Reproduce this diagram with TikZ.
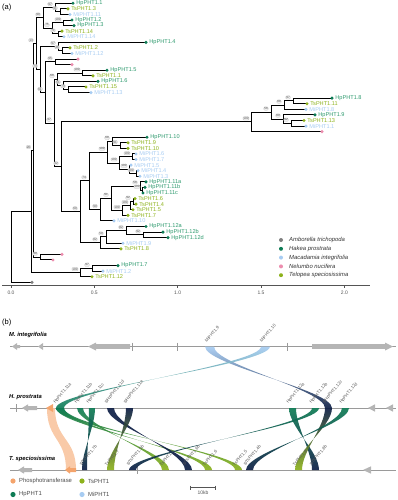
\documentclass[tikz,border=0pt]{standalone}
\usepackage{fontspec}
\setmainfont{Liberation Sans}
\usetikzlibrary{calc}
\definecolor{hp}{HTML}{0E7C55}
\definecolor{hptxt}{HTML}{2E9A6E}
\definecolor{ts}{HTML}{8DB21C}
\definecolor{mi}{HTML}{A7CCF2}
\definecolor{nn}{HTML}{EC8DAE}
\definecolor{am}{HTML}{7F7F7F}
\definecolor{navy}{HTML}{0D1E45}
\definecolor{orng}{HTML}{F4A46C}
\definecolor{orngl}{HTML}{F9C7A3}
\definecolor{gene}{HTML}{B5B5B5}
\definecolor{trk}{HTML}{9A9A9A}
\definecolor{axc}{HTML}{555555}
\tikzset{
 br/.style={line width=1pt, black},
 boot/.style={draw=gray!55, fill=gray!12, rounded corners=0.8pt, line width=0.25pt, inner sep=0.45pt, font=\fontsize{3.1}{3.3}\selectfont, text=gray!60!black},
 tiplab/.style={anchor=west, inner sep=0pt, font=\fontsize{5.6}{6}\selectfont},
 leglab/.style={anchor=west, inner sep=0pt, font=\fontsize{5.9}{6.5}\selectfont\itshape, text=black!80},
 axlab/.style={font=\fontsize{5}{6}\selectfont, text=axc, inner sep=0pt},
 panel/.style={font=\fontsize{7.5}{8}\selectfont, inner sep=0pt},
 trklab/.style={anchor=west, inner sep=0pt, font=\fontsize{5.8}{6.5}\selectfont\bfseries\itshape},
 glab/.style={anchor=south west, inner sep=0pt, rotate=50, font=\fontsize{4.4}{5}\selectfont, text=black!65},
 trackline/.style={draw=trk, line width=0.8pt},
}
\newcommand\tp[6]{%
  \coordinate (#1) at (#2, {3.3+5.58*#3});
  \node[tiplab, text=#5] (#1l) at ($(#1)+(3.2,0)$) {#6};
}
\newcommand\tpn[3]{%
  \coordinate (#1) at (#2, {3.3+5.58*#3});
}
\newcommand\bs[2]{\node[boot] at ($(#1)+(-5,-3.5)$) {#2};}
% twisted ribbon: gene [a1,a2] at yT to gene [b1,b2] at yB
\newcommand\rib[8]{%
 \shade[top color=#7, bottom color=#8, opacity=0.92] (#1,#3) .. controls (#1,{#3+0.3*(#6-#3)}) and (#5,{#6-0.3*(#6-#3)}) .. (#5,#6) -- (#4,#6) .. controls (#4,{#6-0.3*(#6-#3)}) and (#2,{#3+0.3*(#6-#3)}) .. (#2,#3) -- cycle;
}
\begin{document}
\begin{tikzpicture}[x=1pt,y=-1pt]
\path[use as bounding box] (0,0) rectangle (398,500);
\node[panel, anchor=west] (pa) at (2,8) {(a)};
% ---------------- tips
\tp{t0}{73}{0}{hp}{hptxt}{HpPHT1.1}
\tp{t1}{68}{1}{ts}{ts}{TsPHT1.3}
\tp{t2}{70}{2}{mi}{mi}{MiPHT1.11}
\tp{t3}{72}{3}{hp}{hptxt}{HpPHT1.2}
\tp{t4}{74}{4}{hp}{hptxt}{HpPHT1.3}
\tp{t5}{62}{5}{ts}{ts}{TsPHT1.14}
\tp{t6}{64}{6}{mi}{mi}{MiPHT1.14}
\tp{t7}{146}{7}{hp}{hptxt}{HpPHT1.4}
\tp{t8}{70}{8}{ts}{ts}{TsPHT1.2}
\tp{t9}{72}{9}{mi}{mi}{MiPHT1.12}
\tpn{t10}{78}{10}
\tpn{t11}{72}{11}
\tp{t12}{107}{12}{hp}{hptxt}{HpPHT1.5}
\tp{t13}{93}{13}{ts}{ts}{TsPHT1.1}
\tp{t14}{98}{14}{hp}{hptxt}{HpPHT1.6}
\tp{t15}{86}{15}{ts}{ts}{TsPHT1.15}
\tp{t16}{91}{16}{mi}{mi}{MiPHT1.13}
\tp{t17}{332}{17}{hp}{hptxt}{HpPHT1.8}
\tp{t18}{307}{18}{ts}{ts}{TsPHT1.11}
\tp{t19}{306}{19}{mi}{mi}{MiPHT1.8}
\tp{t20}{315}{20}{hp}{hptxt}{HpPHT1.9}
\tp{t21}{304}{21}{ts}{ts}{TsPHT1.13}
\tp{t22}{306}{22}{mi}{mi}{MiPHT1.1}
\tpn{t23}{322}{23}
\tp{t24}{147}{24}{hp}{hptxt}{HpPHT1.10}
\tp{t25}{128}{25}{ts}{ts}{TsPHT1.9}
\tp{t26}{128}{26}{ts}{ts}{TsPHT1.10}
\tp{t27}{136}{27}{mi}{mi}{MiPHT1.6}
\tp{t28}{136}{28}{mi}{mi}{MiPHT1.7}
\tp{t29}{131}{29}{mi}{mi}{MiPHT1.5}
\tp{t30}{138}{30}{mi}{mi}{MiPHT1.4}
\tp{t31}{140}{31}{mi}{mi}{MiPHT1.3}
\tp{t32}{146}{32}{hp}{hptxt}{HpPHT1.11a}
\tp{t33}{145}{33}{hp}{hptxt}{HpPHT1.11b}
\tp{t34}{143}{34}{hp}{hptxt}{HpPHT1.11c}
\tp{t35}{135}{35}{ts}{ts}{TsPHT1.6}
\tp{t36}{136}{36}{ts}{ts}{TsPHT1.4}
\tp{t37}{133}{37}{ts}{ts}{TsPHT1.5}
\tp{t38}{128}{38}{ts}{ts}{TsPHT1.7}
\tp{t39}{114}{39}{mi}{mi}{MiPHT1.10}
\tp{t40}{146}{40}{hp}{hptxt}{HpPHT1.12a}
\tp{t41}{163}{41}{hp}{hptxt}{HpPHT1.12b}
\tp{t42}{168}{42}{hp}{hptxt}{HpPHT1.12d}
\tp{t43}{123}{43}{mi}{mi}{MiPHT1.9}
\tp{t44}{121}{44}{ts}{ts}{TsPHT1.8}
\tpn{t45}{62}{45}
\tpn{t46}{53}{46}
\tp{t47}{118}{47}{hp}{hptxt}{HpPHT1.7}
\tp{t48}{103}{48}{mi}{mi}{MiPHT1.2}
\tp{t49}{92}{49}{ts}{ts}{TsPHT1.12}
\tpn{t50}{32}{50}
% ---------------- internal nodes
\coordinate (B) at (60,11.67);
\coordinate (A) at (55,7.49);
\coordinate (C) at (63,22.83);
\coordinate (E) at (58,33.99);
\coordinate (D) at (52,28.41);
\coordinate (F) at (43,17.95);
\coordinate (U2s) at (62,50.73);
\coordinate (U2) at (58,46.55);
\coordinate (U3) at (55,61.89);
\coordinate (H5) at (82,73.05);
\coordinate (Q) at (68,89.79);
\coordinate (P) at (63,85.61);
\coordinate (U4) at (57,79.33);
\coordinate (n97r) at (293,100.95);
\coordinate (n88) at (284,105.14);
\coordinate (n92r) at (291,123.27);
\coordinate (n80) at (283,119.09);
\coordinate (n56) at (271,112.11);
\coordinate (LC) at (251,121.88);
\coordinate (n91a) at (120,145.59);
\coordinate (n68) at (112,141.4);
\coordinate (n100a) at (132,156.75);
\coordinate (n100c) at (136,173.49);
\coordinate (n100b) at (129,169.3);
\coordinate (n100u) at (119,163.03);
\coordinate (C100) at (107,152.2);
\coordinate (h11s) at (142,190.23);
\coordinate (h11) at (140,186.05);
\coordinate (T1) at (133,201.39);
\coordinate (T2) at (130,205.58);
\coordinate (T3) at (122,210.46);
\coordinate (n91b) at (111,198.26);
\coordinate (n99) at (100,209.59);
\coordinate (n74) at (89,180.9);
\coordinate (n92b) at (143,234.87);
\coordinate (h12) at (126,230.69);
\coordinate (n50) at (106,236.96);
\coordinate (n82b) at (100,242.89);
\coordinate (n60) at (80,211.9);
\coordinate (X) at (61,166.89);
\coordinate (n37) at (54,123.11);
\coordinate (n61) at (45,92.5);
\coordinate (n73) at (40,69.53);
\coordinate (n13) at (36,43.74);
\coordinate (pk99) at (40,257.19);
\coordinate (n20) at (33.5,150.47);
\coordinate (n97h) at (92,268.35);
\coordinate (n100h) at (80,272.54);
\coordinate (N1) at (31.5,211.5);
\coordinate (root) at (11,246.9);
% ---------------- edges
\foreach \p/\c in {root/t50,root/N1,N1/n20,N1/n100h,n20/n13,n20/pk99,n13/F,n13/n73,
 F/A,F/D,A/t0,A/B,B/t1,B/t2,D/C,D/E,C/t3,C/t4,E/t5,E/t6,n73/U2,n73/n61,U2/t7,U2/U2s,U2s/t8,U2s/t9,
 n61/U3,n61/n37,U3/t10,U3/t11,n37/U4,n37/X,U4/H5,U4/P,H5/t12,H5/t13,P/t14,P/Q,Q/t15,Q/t16,
 X/LC,X/n60,LC/n56,LC/t23,n56/n88,n56/n80,n88/n97r,n88/t19,n97r/t17,n97r/t18,n80/t20,n80/n92r,n92r/t21,n92r/t22,
 n60/n74,n60/n82b,n74/C100,n74/n99,C100/n68,C100/n100u,n68/t24,n68/n91a,n91a/t25,n91a/t26,
 n100u/n100a,n100u/n100b,n100a/t27,n100a/t28,n100b/t29,n100b/n100c,n100c/t30,n100c/t31,
 n99/n91b,n99/t39,n91b/h11,n91b/T3,h11/t32,h11/h11s,h11s/t33,h11s/t34,T3/T2,T3/t38,T2/T1,T2/t37,T1/t35,T1/t36,
 n82b/n50,n82b/t44,n50/h12,n50/t43,h12/t40,h12/n92b,n92b/t41,n92b/t42,pk99/t45,pk99/t46,
 n100h/n97h,n100h/t49,n97h/t47,n97h/t48}
 {\draw[br] (\p) |- (\c);}
% dots over lines
\foreach \t/\c in {t0/hp,t1/ts,t2/mi,t3/hp,t4/hp,t5/ts,t6/mi,t7/hp,t8/ts,t9/mi,t10/nn,t11/nn,t12/hp,t13/ts,t14/hp,t15/ts,t16/mi,
 t17/hp,t18/ts,t19/mi,t20/hp,t21/ts,t22/mi,t23/nn,t24/hp,t25/ts,t26/ts,t27/mi,t28/mi,t29/mi,t30/mi,t31/mi,t32/hp,t33/hp,t34/hp,
 t35/ts,t36/ts,t37/ts,t38/ts,t39/mi,t40/hp,t41/hp,t42/hp,t43/mi,t44/ts,t45/nn,t46/nn,t47/hp,t48/mi,t49/ts,t50/am}
 {\fill[\c] (\t) circle (1.7pt);}
% ---------------- bootstrap labels
\bs{A}{97}\bs{B}{91}\bs{F}{90}\bs{C}{100}\bs{D}{75}\bs{E}{71}\bs{n13}{13}\bs{U2}{97}\bs{U2s}{46}
\bs{U3}{95}\bs{n73}{73}\bs{H5}{100}\bs{U4}{66}\bs{P}{61}\bs{Q}{73}\bs{n61}{61}\bs{n37}{37}\bs{n20}{20}
\bs{X}{32}\bs{n60}{60}\bs{pk99}{99}\bs{n100h}{100}\bs{n97h}{97}\bs{LC}{100}\bs{n56}{56}\bs{n88}{88}
\bs{n97r}{97}\bs{n80}{80}\bs{n92r}{92}\bs{n68}{68}\bs{n91a}{91}\bs{C100}{100}\bs{n100a}{100}\bs{n100u}{100}
\bs{n100b}{100}\bs{n100c}{100}\bs{n74}{74}\bs{h11}{56}\bs{h11s}{100}\bs{n91b}{91}\bs{T1}{92}\bs{T2}{100}
\bs{T3}{100}\bs{n99}{99}\bs{h12}{82}\bs{n92b}{92}\bs{n50}{50}\bs{n82b}{82}
% ---------------- legend a
\foreach \y/\c/\t [count=\k] in {240/am/Amborella trichopoda,248.8/hp/Hakea prostrata,257.6/mi/Macadamia integrifolia,266.4/nn/Nelumbo nucifera,275.2/ts/Telopea speciosissima}
 {\fill[\c] (281,\y) circle (2pt); \node[leglab] (lg\k) at (289,\y) {\t};}
% ---------------- axis
\coordinate (ax0) at (2,285.7); \coordinate (ax1) at (370,285.7);
\draw[axc, line width=0.6pt] (ax0) -- (ax1);
\foreach \x/\l in {11/0.0,94.3/0.5,177.7/1.0,261/1.5,344.3/2.0}
 {\draw[axc, line width=0.5pt] (\x,285.7) -- (\x,287.8); \node[axlab] at (\x,293) {\l};}
% ================= panel b
\node[panel, anchor=west] (pb) at (2,323) {(b)};
\node[trklab] (lm) at (9,334.5) {M. integrifolia};
\node[trklab] (lh) at (9,397) {H. prostrata};
\node[trklab] (lt) at (9,458.5) {T. speciosissima};
\draw[trackline] (10,346.5) -- (396,346.5);
\draw[trackline] (10,408) -- (396,408);
\draw[trackline] (10,470) -- (396,470);
\foreach \x/\y in {132/346.5,177/346.5,287/346.5,16/408,137/470}
 {\draw[trk, line width=0.5pt] (\x,\y-4) -- (\x,\y+4);}
% ribbons M->H
\rib{205}{214}{346.5}{325}{332}{408}{mi}{navy}
\rib{261}{270}{346.5}{56}{64}{408}{mi}{hp}
% orange
\fill[orngl, opacity=0.95] (47,408) .. controls (47,440) and (66,438) .. (66,470) -- (76,470) .. controls (76,438) and (55,440) .. (55,408) -- cycle;
% ribbons H->T
\rib{56}{64}{408}{235}{242}{470}{hp}{ts}
\rib{56}{64}{408}{205}{212}{470}{hp}{ts}
\rib{77}{83}{408}{162}{169}{470}{hp}{ts}
\rib{89}{95}{408}{82}{87}{470}{hp}{navy}
\rib{107}{114}{408}{185}{192}{470}{navy}{navy}
\rib{126}{133}{408}{107}{114}{470}{navy}{ts}
\rib{289}{296}{408}{312}{319}{470}{hp}{navy}
\rib{312}{319}{408}{129}{136}{470}{hp}{navy}
\rib{325}{332}{408}{295}{302}{470}{navy}{ts}
\rib{342}{349}{408}{246}{253}{470}{hp}{navy}
% grey genes
\fill[gene] (12,346.5) -- (17,343) -- (17,345) -- (20,345) -- (20,348) -- (17,348) -- (17,350) -- cycle;
\fill[gene] (38,346.5) -- (43,343) -- (43,350) -- cycle;
\fill[gene] (88,346.5) -- (96,342.5) -- (96,344.2) -- (130,344.2) -- (130,348.8) -- (96,348.8) -- (96,350.5) -- cycle;
\fill[gene] (393,346.5) -- (385,342.5) -- (385,344.2) -- (312,344.2) -- (312,348.8) -- (385,348.8) -- (385,350.5) -- cycle;
\fill[gene] (22,408) -- (28,404.3) -- (28,406) -- (37,406) -- (37,410) -- (28,410) -- (28,411.7) -- cycle;
\fill[gene] (368,408) -- (375,404.3) -- (375,411.7) -- cycle;
\fill[gene] (386,408) -- (393,404.3) -- (393,411.7) -- cycle;
\fill[gene] (18,470) -- (24,466.3) -- (24,468) -- (32,468) -- (32,472) -- (24,472) -- (24,473.7) -- cycle;
\fill[gene] (363,470) -- (371,466.3) -- (371,473.7) -- cycle;
\fill[orng] (46,408) -- (53,404) -- (53,412) -- cycle;
\fill[orng] (65,470) -- (70,466.3) -- (70,468) -- (76,468) -- (76,472) -- (70,472) -- (70,473.7) -- cycle;
% gene labels
\node[glab] (gm9) at (207,343) {MiPHT1.9};
\node[glab] (gm10) at (262,343) {MiPHT1.10};
\foreach \x/\l [count=\k] in {56/HpPHT1.11a,77/HpPHT1.11b,89/HpPHT1.11c,107/ψHpPHT1.11d,126/ψHpPHT1.11e,289/HpPHT1.12a,312/HpPHT1.12b,325/ψHpPHT1.12c,342/HpPHT1.12d}
 {\node[glab] (gh\k) at (\x,404.5) {\l};}
\foreach \x/\l [count=\k] in {82/ψTsPHT1.7b,107/TsPHT1.7,129/ψTsPHT1.5b,162/TsPHT1.4,185/ψTsPHT1.6b,205/TsPHT1.6,235/TsPHT1.5,246/ψTsPHT1.4b,295/TsPHT1.8,312/ψTsPHT1.8b}
 {\node[glab] (gt\k) at (\x,466.5) {\l};}
% scale bar
\coordinate (sb0) at (190,487.5); \coordinate (sb1) at (215,487.5);
\draw[axc, line width=0.5pt] (sb0) -- (sb1);
\draw[axc, line width=0.5pt] (190,485.5) -- (190,489.5) (215,485.5) -- (215,489.5);
\node[axlab] (sbl) at (203,492.5) {10kb};
% legend b
\foreach \x/\y/\c/\t [count=\k] in {13/481/orng/Phosphotransferase,82/481/ts/TsPHT1,13/494.5/hp/HpPHT1,82/494.5/mi/MiPHT1}
 {\fill[\c] (\x,\y) circle (2.6pt); \node[anchor=west, inner sep=0pt, font=\fontsize{5.9}{6.5}\selectfont, text=black!70] (lb\k) at (\x+6,\y) {\t};}
\end{tikzpicture}
\end{document}
